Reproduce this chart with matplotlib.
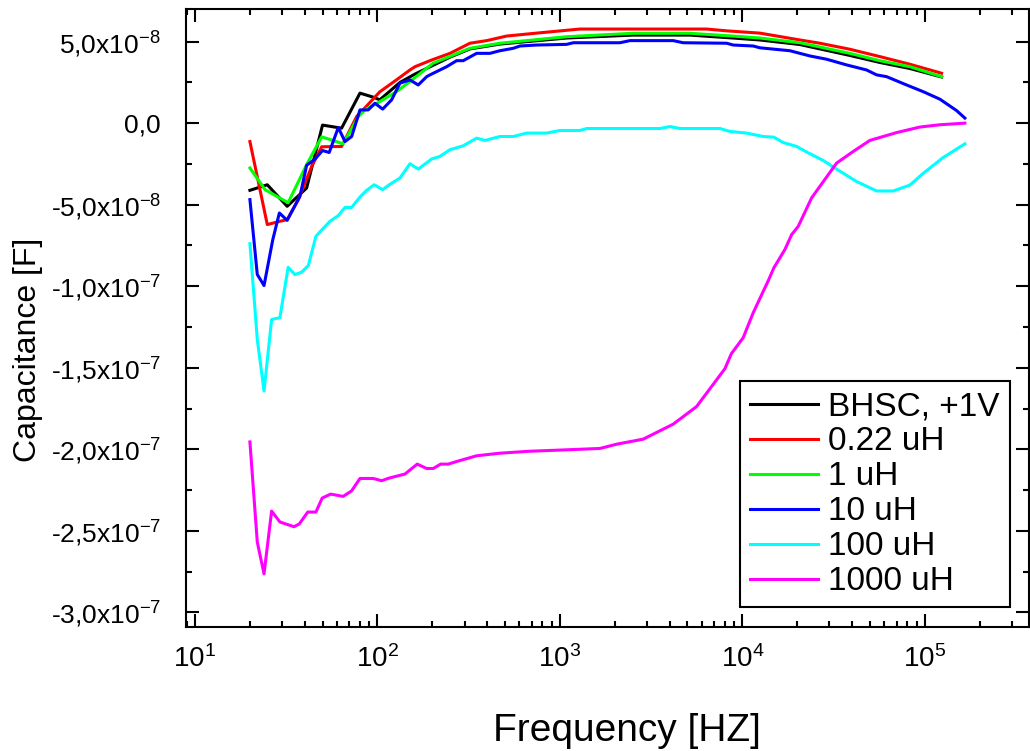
import numpy as np
import matplotlib
matplotlib.use("Agg")
import matplotlib.pyplot as plt
from matplotlib.ticker import FuncFormatter, MultipleLocator, LogLocator

# values in units of 1e-8 F, frequencies in Hz
f_bhsc = [20, 24.9, 32, 40.9, 50, 63.6, 80.2, 95, 103, 133, 160, 202, 250, 321, 469,
          1088, 2512, 5157, 8868, 12470, 20660, 38820, 56680, 82770, 123470]
c_bhsc = [-4.12, -3.78, -5.10, -3.98, -0.12, -0.31, 1.84, 1.59, 1.43, 2.5, 3.0, 3.55, 4.05, 4.55, 4.85,
          5.22, 5.40, 5.40, 5.22, 5.10, 4.82, 4.15, 3.72, 3.35, 2.83]

f_022 = [20, 24.9, 29.2, 32, 36.8, 43.6, 49.5, 63.6, 76.9, 85.4, 103, 127, 150.7, 160.5, 198,
         250, 321, 397, 510, 777, 1287, 2512, 6365, 8193, 12470, 20660, 26590, 38820, 56680,
         82770, 123470]
c_022 = [-1.13, -6.22, -6.02, -5.92, -4.69, -2.66, -1.45, -1.43, 0.40, 0.94, 1.92, 2.65, 3.26, 3.46, 3.87,
         4.28, 4.90, 5.06, 5.34, 5.54, 5.77, 5.77, 5.77, 5.66, 5.52, 5.10, 4.90, 4.53, 4.08,
         3.61, 3.06]

f_1 = [20, 24.2, 32.4, 40.9, 49.5, 64.9, 78.5, 85.4, 103, 127, 150.7, 201.5, 321, 469, 1088,
       2512, 5157, 8868, 12470, 20660, 38820, 56680, 82770, 123470]
c_1 = [-2.75, -4.08, -4.88, -2.55, -0.84, -1.27, 0.40, 0.81, 1.32, 1.93, 2.55, 3.67, 4.59, 4.90, 5.30,
       5.51, 5.51, 5.34, 5.22, 4.93, 4.28, 3.83, 3.46, 2.85]

f_10 = [20, 21.95, 23.9, 26.7, 29, 32, 37.6, 40.9, 45.5, 50, 54.4, 61, 66.4, 72.2, 80.2, 89,
        96.9, 106.8, 119.6, 132.8, 150.7, 167.3, 186.1, 194, 239.4, 271.6, 295.2, 349.6, 413.4,
        469, 555, 604, 745, 1088, 1183, 2132, 2419, 4176, 4738, 8193, 8905, 11460, 12470, 18210,
        23440, 28930, 37240, 47920, 54370, 61700, 79410, 97880, 120850, 149200, 165700]
c_10 = [-4.69, -9.28, -9.96, -7.14, -5.51, -5.96, -4.49, -2.59, -2.20, -1.68, -1.80, -0.27, -1.13, -0.82,
        0.81, 0.81, 1.22, 0.86, 1.43, 2.45, 2.65, 2.34, 2.85, 2.96, 3.46, 3.83, 3.83, 4.28, 4.28,
        4.44, 4.59, 4.73, 4.79, 4.83, 4.93, 4.93, 5.06, 5.06, 4.93, 4.90, 4.79, 4.73, 4.62, 4.44,
        4.12, 3.92, 3.57, 3.26, 2.96, 2.85, 2.34, 1.93, 1.47, 0.77, 0.31]

f_100 = [20, 21.95, 23.9, 26.3, 29.2, 32.4, 35.3, 38.4, 41.8, 46, 50.1, 54.9, 61, 66.4, 72.2,
         80.2, 87.3, 96, 106.8, 116, 132.8, 150.7, 167.3, 198.2, 220, 249.6, 295.2, 349.6, 388,
         469, 555, 657, 845, 1000, 1287, 1401, 3531, 4006, 4545, 7530, 8541, 10545, 13000,
         14880, 16735, 19820, 22480, 27720, 32830, 42240, 54370, 67050, 82770, 97880, 126000,
         165700]
c_100 = [-7.39, -13.26, -16.43, -12.04, -11.93, -8.84, -9.29, -9.14, -8.73, -6.94, -6.49, -6.02, -5.67,
         -5.17, -5.17, -4.53, -4.12, -3.78, -4.08, -3.78, -3.37, -2.49, -2.82, -2.20, -2.04, -1.63,
         -1.39, -0.92, -1.06, -0.82, -0.82, -0.61, -0.61, -0.45, -0.45, -0.33, -0.33, -0.21, -0.33,
         -0.33, -0.51, -0.61, -0.82, -0.86, -1.19, -1.43, -1.77, -2.29, -2.82, -3.58, -4.16, -4.16,
         -3.80, -3.08, -2.11, -1.27]

f_1000 = [20, 21.95, 23.9, 26.3, 29.2, 34.9, 37.3, 41.5, 46, 49.8, 55.4, 64.9, 72.2, 80.2, 94.8,
          105.4, 115.6, 141.5, 165.2, 186.1, 202.2, 222, 244.3, 271.6, 349.6, 469, 685, 1000,
          1657, 2045, 2860, 4176, 5611, 8019, 8700, 10100, 11460, 13850, 14880, 17100, 18610,
          20230, 23940, 32830, 40470, 49950, 69980, 93890, 120850, 165700]
c_1000 = [-19.55, -25.69, -27.64, -23.79, -24.46, -24.75, -24.58, -23.85, -23.85, -22.99, -22.75,
          -22.89, -22.55, -21.79, -21.79, -21.93, -21.77, -21.52, -20.91, -21.18, -21.18, -20.91,
          -20.91, -20.75, -20.40, -20.24, -20.12, -20.05, -19.95, -19.69, -19.38, -18.46, -17.38,
          -15.06, -14.14, -13.16, -11.63, -9.67, -8.87, -7.75, -6.84, -6.33, -4.59, -2.45, -1.74,
          -1.06, -0.58, -0.24, -0.10, 0.0]

labels = ["BHSC, +1V", "0.22 uH", "1 uH", "10 uH", "100 uH", "1000 uH"]
colors = ["#000000", "#ff0000", "#00ff00", "#0000ff", "#00ffff", "#ff00ff"]
series = [(f_bhsc, c_bhsc), (f_022, c_022), (f_1, c_1), (f_10, c_10), (f_100, c_100), (f_1000, c_1000)]

plt.rcParams['font.family'] = ['Liberation Sans', 'DejaVu Sans']
plt.rcParams['mathtext.fontset'] = 'custom'
plt.rcParams['mathtext.rm'] = 'Liberation Sans'
plt.rcParams['mathtext.it'] = 'Liberation Sans:italic'
plt.rcParams['mathtext.bf'] = 'Liberation Sans:bold'

fig = plt.figure(figsize=(10.3, 7.51), dpi=100)
ax = fig.add_axes([0.1806, 0.1651, 0.8184, 0.8225])

for (f, c), lab, col in zip(series, labels, colors):
    ax.plot(f, np.array(c) * 1e-8, color=col, lw=2.2, label=lab)

ax.set_xscale('log')
ax.set_xlim(8.93, 3.72e5)
ax.set_ylim(-3.09e-7, 6.98e-8)


def cap_fmt(v, pos):
    if abs(v) < 1e-12:
        return "0,0"
    e = int(np.floor(np.log10(abs(v)) + 1e-9))
    m = v / 10 ** e
    s = ("%.1f" % m).replace(".", ",")
    return s + "x10$^{%d}$" % e


ax.yaxis.set_major_locator(MultipleLocator(5e-8))
ax.yaxis.set_minor_locator(MultipleLocator(2.5e-8))
ax.yaxis.set_major_formatter(FuncFormatter(cap_fmt))
ax.xaxis.set_major_locator(LogLocator(base=10, numticks=10))
ax.xaxis.set_minor_locator(LogLocator(base=10, subs=np.arange(2, 10), numticks=20))

ax.tick_params(which='both', direction='in', top=True, right=True, width=1.5)
ax.tick_params(which='major', length=9.5)
ax.tick_params(which='minor', length=4)
ax.tick_params(axis='y', labelsize=19, pad=18)
ax.tick_params(axis='x', labelsize=20, pad=13)
for sp in ax.spines.values():
    sp.set_linewidth(1.5)

ax.set_xlabel("Frequency [HZ]", fontsize=28)
ax.set_ylabel("Capacitance [F]", fontsize=23)
ax.xaxis.set_label_coords(0.523, -0.139)
ax.yaxis.set_label_coords(-0.170, 0.448)

leg = ax.legend(loc='lower right', bbox_to_anchor=(0.977, 0.032), borderaxespad=0,
                fontsize=24, fancybox=False, framealpha=1, edgecolor='black',
                handlelength=2.05, handletextpad=0.3, labelspacing=0.12,
                borderpad=0.3)
leg.get_frame().set_linewidth(1.5)

fig.savefig("out.png", dpi=100)
